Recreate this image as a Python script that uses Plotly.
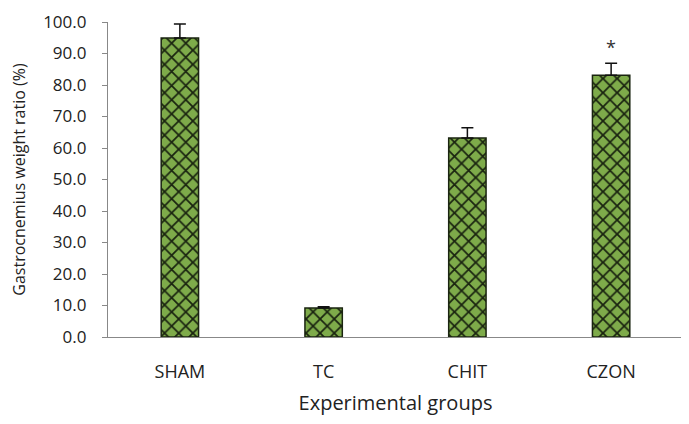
import plotly.graph_objects as go

categories = ["SHAM", "TC", "CHIT", "CZON"]
values = [94.9, 9.2, 63.2, 83.1]
errors = [4.5, 0.4, 3.2, 3.8]
marks = ["", "", "", "*"]
y_ticks = [0, 10, 20, 30, 40, 50, 60, 70, 80, 90, 100]

font_family = "Open Sans, sans-serif"

fig = go.Figure()
fig.add_trace(go.Bar(
    x=categories, y=values, width=0.26,
    marker=dict(
        color="#7eab4a",
        line=dict(color="#1a2410", width=1.5),
        pattern=dict(shape="x", fgcolor="#1a2410", bgcolor="#7eab4a",
                     size=10, solidity=0.32, fillmode="replace"),
    ),
    error_y=dict(type="data", symmetric=False, array=errors,
                 arrayminus=[0] * len(errors), color="#111111",
                 thickness=1.5, width=6),
))

for c, v, e, m in zip(categories, values, errors, marks):
    if m:
        fig.add_annotation(x=c, y=v + e, text=m, showarrow=False,
                           yanchor="bottom", yshift=2,
                           font=dict(size=18, color="#333333", family=font_family))

# page body adds an 8px offset, so margins compensate for it
fig.update_layout(
    width=689, height=424,
    margin=dict(l=100, r=14, t=14, b=95),
    paper_bgcolor="white", plot_bgcolor="white",
    showlegend=False,
    font=dict(family=font_family, color="#222222"),
    bargap=0.74,
)
fig.update_yaxes(
    range=[0, 100], tickvals=y_ticks,
    ticktext=[f"{t:.1f}" for t in y_ticks],
    showgrid=False, showline=True, linecolor="#888888", linewidth=1.2,
    ticks="outside", ticklen=5, tickcolor="#888888",
    ticklabelstandoff=12, automargin=False,
    tickfont=dict(size=17, color="#222222"),
    title=dict(text="Gastrocnemius weight ratio (%)", standoff=14,
               font=dict(size=16, color="#222222")),
    zeroline=False,
)
fig.update_xaxes(
    showgrid=False, showline=True, linecolor="#888888", linewidth=1.2,
    ticks="", ticklabelstandoff=18, automargin=False,
    tickfont=dict(size=18, color="#222222"),
    title=dict(text="Experimental groups", standoff=14,
               font=dict(size=20, color="#222222")),
)

fig.write_html("out.html")
